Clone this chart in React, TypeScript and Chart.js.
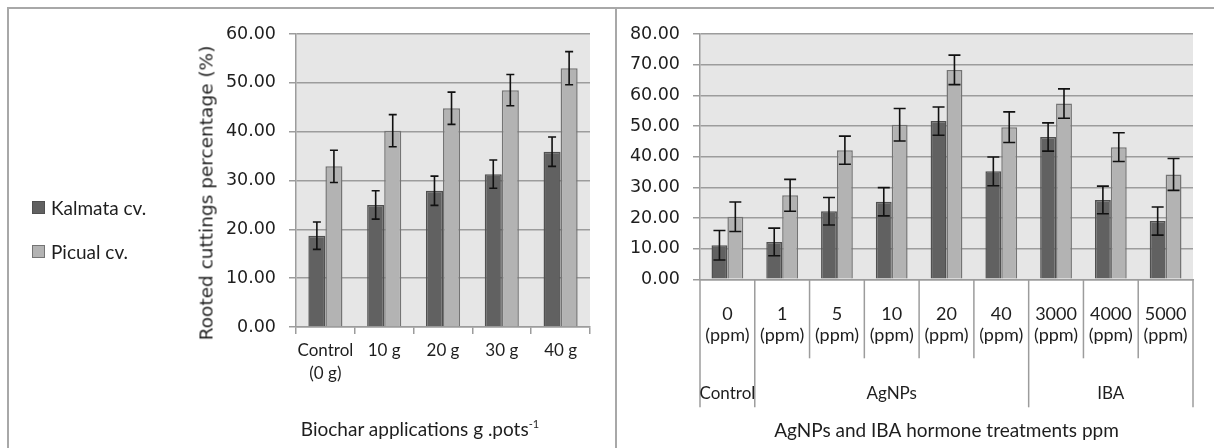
import React, { useEffect, useRef } from "react";
import { Chart, registerables } from "chart.js";

Chart.register(...registerables);

// ---------- Data ----------
const seriesNames = ["Kalmata cv.", "Picual cv."];

const biocharLabels = [["Control", "(0 g)"], ["10 g"], ["20 g"], ["30 g"], ["40 g"]];
const biocharKalmata = [18.7, 25.0, 27.9, 31.3, 35.9];
const biocharKalmataErr = [2.8, 2.9, 3.0, 2.9, 3.0];
const biocharPicual = [32.9, 40.2, 44.8, 48.5, 53.0];
const biocharPicualErr = [3.3, 3.3, 3.3, 3.2, 3.4];
const biocharYMax = 60;

const treatLabels = [
  ["0", "(ppm)"], ["1", "(ppm)"], ["5", "(ppm)"], ["10", "(ppm)"], ["20", "(ppm)"],
  ["40", "(ppm)"], ["3000", "(ppm)"], ["4000", "(ppm)"], ["5000", "(ppm)"],
];
const treatGroups = ["Control", "AgNPs", "IBA"];
const treatGroupSizes = [1, 5, 3];
const treatKalmata = [11.1, 12.2, 22.2, 25.3, 51.6, 35.2, 46.4, 25.9, 19.0];
const treatKalmataErr = [4.8, 4.5, 4.5, 4.6, 4.6, 4.7, 4.6, 4.5, 4.6];
const treatPicual = [20.4, 27.4, 42.1, 50.4, 68.3, 49.6, 57.3, 43.1, 34.2];
const treatPicualErr = [4.8, 5.2, 4.6, 5.3, 4.8, 5.0, 4.8, 4.7, 5.2];
const treatYMax = 80;

const yStep = 10;

// ---------- Styles ----------
const KAL_FILL = "#616161";
const KAL_BORDER = "#505050";
const PIC_FILL = "#b3b3b3";
const PIC_BORDER = "#747474";
const GRID = "#9c9c9c";
const PLOT_BG = "#e6e6e6";
const FRAME = "#a8a8a8";
const TEXT = "#1e1e1e";
const LABEL_FONT = "Lato, 'Noto Sans', sans-serif";
const TICK_FONT = "'DejaVu Sans', Verdana, sans-serif";

const plotBgPlugin = {
  id: "plotBg",
  beforeDraw(chart: any) {
    const { ctx, chartArea } = chart;
    if (!chartArea) return;
    ctx.save();
    ctx.fillStyle = PLOT_BG;
    ctx.fillRect(chartArea.left, chartArea.top, chartArea.right - chartArea.left, chartArea.bottom - chartArea.top);
    ctx.restore();
  },
};

const errorBarPlugin = {
  id: "errorBars",
  afterDatasetsDraw(chart: any, _args: any, opts: any) {
    const { ctx } = chart;
    const yScale = chart.scales.y;
    const cap = opts.capWidth || 8;
    ctx.save();
    ctx.strokeStyle = "#111";
    ctx.lineWidth = 1.6;
    chart.data.datasets.forEach((ds: any, di: number) => {
      const meta = chart.getDatasetMeta(di);
      const errs = ds.errors || [];
      meta.data.forEach((el: any, i: number) => {
        const v = ds.data[i];
        const e = errs[i];
        if (e == null) return;
        const x = el.x;
        const yt = yScale.getPixelForValue(v + e);
        const yb = yScale.getPixelForValue(v - e);
        ctx.beginPath();
        ctx.moveTo(x, yt);
        ctx.lineTo(x, yb);
        ctx.moveTo(x - cap / 2, yt);
        ctx.lineTo(x + cap / 2, yt);
        ctx.moveTo(x - cap / 2, yb);
        ctx.lineTo(x + cap / 2, yb);
        ctx.stroke();
      });
    });
    ctx.restore();
  },
};

const groupAxisPlugin = {
  id: "groupAxis",
  afterDraw(chart: any, _args: any, opts: any) {
    if (!opts || !opts.groups) return;
    const { ctx } = chart;
    const xs = chart.scales.x;
    const bottom = chart.chartArea.bottom;
    const n = chart.data.labels.length;
    const groupBounds = new Set<number>();
    let acc = 0;
    groupBounds.add(0);
    opts.sizes.forEach((s: number) => { acc += s; groupBounds.add(acc); });
    ctx.save();
    ctx.strokeStyle = GRID;
    ctx.lineWidth = 1.5;
    for (let k = 0; k <= n; k++) {
      const px = xs.getPixelForValue(k - 0.5);
      const len = groupBounds.has(k) ? opts.groupLineLength : opts.catLineLength;
      ctx.beginPath();
      ctx.moveTo(px, bottom);
      ctx.lineTo(px, bottom + len);
      ctx.stroke();
    }
    ctx.fillStyle = TEXT;
    ctx.font = `17px ${LABEL_FONT}`;
    ctx.textAlign = "center";
    ctx.textBaseline = "middle";
    let start = 0;
    opts.groups.forEach((g: string, gi: number) => {
      const end = start + opts.sizes[gi];
      const x0 = xs.getPixelForValue(start - 0.5);
      const x1 = xs.getPixelForValue(end - 0.5);
      ctx.fillText(g, (x0 + x1) / 2, bottom + opts.groupLabelOffset);
      start = end;
    });
    ctx.restore();
  },
};

function makeDatasets(k: number[], kErr: number[], p: number[], pErr: number[]) {
  return [
    {
      label: seriesNames[0],
      data: k,
      errors: kErr,
      backgroundColor: KAL_FILL,
      borderColor: KAL_BORDER,
      borderWidth: 1.5,
      categoryPercentage: 0.58,
      barPercentage: 1.0,
    },
    {
      label: seriesNames[1],
      data: p,
      errors: pErr,
      backgroundColor: PIC_FILL,
      borderColor: PIC_BORDER,
      borderWidth: 1.5,
      categoryPercentage: 0.58,
      barPercentage: 1.0,
    },
  ];
}

function yAxis(max: number, width: number) {
  return {
    min: 0,
    max,
    ticks: {
      stepSize: yStep,
      color: TEXT,
      padding: 13,
      font: { family: TICK_FONT, size: 17.5 },
      callback: (v: any) => Number(v).toFixed(2),
    },
    grid: { color: GRID, lineWidth: 1.5, tickLength: 7, tickColor: GRID },
    border: { display: true, color: GRID, width: 1.5 },
    afterFit(scale: any) { scale.width = width; },
  };
}

export default function App() {
  const leftRef = useRef<HTMLCanvasElement>(null);
  const rightRef = useRef<HTMLCanvasElement>(null);

  useEffect(() => {
    const left = new Chart(leftRef.current as HTMLCanvasElement, {
      type: "bar",
      data: {
        labels: biocharLabels as any,
        datasets: makeDatasets(biocharKalmata, biocharKalmataErr, biocharPicual, biocharPicualErr) as any,
      },
      options: {
        responsive: true,
        maintainAspectRatio: false,
        animation: false,
        layout: { padding: { left: 0, right: 25, top: 34, bottom: 0 } },
        plugins: {
          legend: { display: false },
          tooltip: { enabled: false },
          errorBars: { capWidth: 8 },
        } as any,
        scales: {
          x: {
            grid: { display: true, drawOnChartArea: false, offset: true, color: GRID, lineWidth: 1.5, tickLength: 7 },
            border: { display: true, color: GRID, width: 1.5 },
            ticks: {
              color: TEXT,
              padding: 5,
              maxRotation: 0,
              autoSkip: false,
              font: { family: LABEL_FONT, size: 17, lineHeight: 23 / 17 },
            },
            afterFit(scale: any) { scale.height = 121; },
          },
          y: yAxis(biocharYMax, 296),
        } as any,
      },
      plugins: [plotBgPlugin, errorBarPlugin],
    });

    const right = new Chart(rightRef.current as HTMLCanvasElement, {
      type: "bar",
      data: {
        labels: treatLabels as any,
        datasets: makeDatasets(treatKalmata, treatKalmataErr, treatPicual, treatPicualErr) as any,
      },
      options: {
        responsive: true,
        maintainAspectRatio: false,
        animation: false,
        layout: { padding: { left: 0, right: 21, top: 34, bottom: 0 } },
        plugins: {
          legend: { display: false },
          tooltip: { enabled: false },
          errorBars: { capWidth: 12 },
          groupAxis: {
            groups: treatGroups,
            sizes: treatGroupSizes,
            catLineLength: 79,
            groupLineLength: 128,
            groupLabelOffset: 114,
          },
        } as any,
        scales: {
          x: {
            grid: { display: false, drawTicks: false, tickLength: 0 },
            border: { display: true, color: GRID, width: 1.5 },
            ticks: {
              color: TEXT,
              padding: 24,
              maxRotation: 0,
              autoSkip: false,
              font: { family: LABEL_FONT, size: 18, lineHeight: 21 / 18 },
            },
            title: {
              display: true,
              text: "AgNPs and IBA hormone treatments ppm",
              color: TEXT,
              font: { family: LABEL_FONT, size: 19, lineHeight: 1.2 },
              padding: { top: 0, bottom: 6 },
            },
            afterFit(scale: any) { scale.height = 168.7; },
          },
          y: yAxis(treatYMax, 83),
        } as any,
      },
      plugins: [plotBgPlugin, errorBarPlugin, groupAxisPlugin],
    });

    return () => {
      left.destroy();
      right.destroy();
    };
  }, []);

  const legendItem = (name: string, fill: string, border: string, cy: number) => (
    <div key={name} style={{ position: "absolute", left: 32, top: cy - 12, height: 24, display: "flex", alignItems: "center", whiteSpace: "nowrap" }}>
      <div style={{ width: 11, height: 11, background: fill, border: `1px solid ${border}`, marginRight: 6 }} />
      <span style={{ fontFamily: LABEL_FONT, fontSize: 19, color: TEXT }}>{name}</span>
    </div>
  );

  return (
    <div style={{ position: "absolute", left: 0, top: 0, width: 1214, height: 448, background: "#fff", overflow: "hidden" }}>
      <div style={{ position: "absolute", left: 7, top: 7, width: 1207, height: 441, borderTop: `2px solid ${FRAME}`, borderLeft: `2px solid ${FRAME}` }} />
      <div style={{ position: "absolute", left: 615, top: 8, width: 2, height: 440, background: FRAME }} />
      <div style={{ position: "absolute", left: 0, top: 0, width: 615, height: 448 }}>
        <canvas ref={leftRef} />
      </div>
      <div style={{ position: "absolute", left: 617, top: 0, width: 597, height: 448 }}>
        <canvas ref={rightRef} />
      </div>
      {legendItem(seriesNames[0], KAL_FILL, KAL_BORDER, 207)}
      {legendItem(seriesNames[1], PIC_FILL, PIC_BORDER, 251)}
      <div style={{ position: "absolute", left: 206, top: 193, transform: "translate(-50%, -50%) rotate(-90deg)", whiteSpace: "nowrap", fontFamily: TICK_FONT, fontSize: 18.5, color: TEXT }}>
        Rooted cuttings percentage (%)
      </div>
      <div style={{ position: "absolute", left: 420, top: 428, transform: "translate(-50%, -50%)", whiteSpace: "nowrap", fontFamily: LABEL_FONT, fontSize: 19, color: TEXT }}>
        Biochar applications g .pots<sup style={{ fontSize: 11 }}>-1</sup>
      </div>
    </div>
  );
}
